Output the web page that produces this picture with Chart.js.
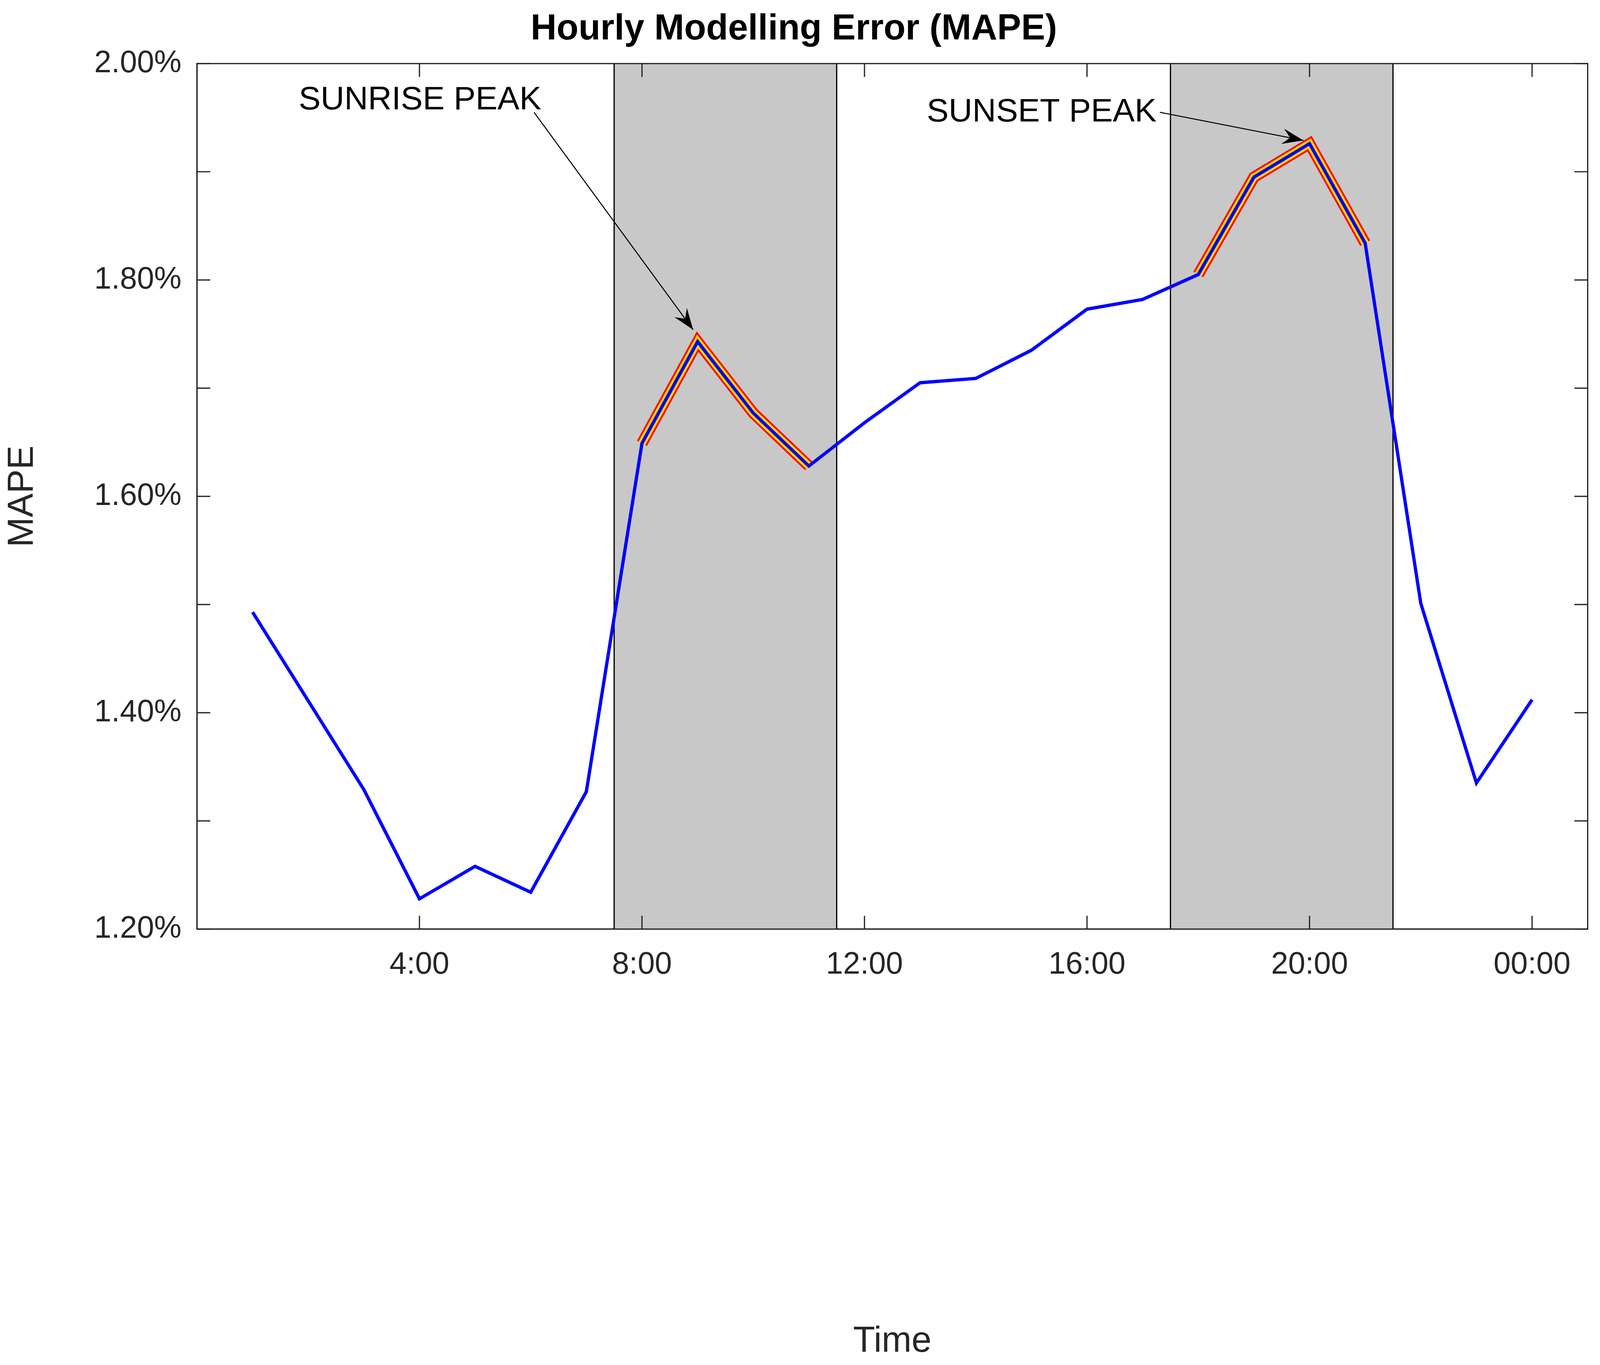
<!DOCTYPE html>
<html>
<head>
<meta charset="utf-8">
<script src="https://cdn.jsdelivr.net/npm/chart.js@4/dist/chart.umd.min.js"></script>
<style>
  html, body { margin: 0; padding: 0; background: #fff; overflow: hidden; }
  #wrap { width: 100vw; height: 100vh; position: relative; }
</style>
</head>
<body>
<div id="wrap"><canvas id="mape-chart"></canvas></div>
<script>
// hour of day and MAPE (%)
const hours = [1, 2, 3, 4, 5, 6, 7, 8, 9, 10, 11, 12, 13, 14, 15, 16, 17, 18, 19, 20, 21, 22, 23, 24];
const mape = [1.493, 1.411, 1.329, 1.228, 1.258, 1.234, 1.327, 1.649, 1.743, 1.677, 1.628, 1.668,
  1.705, 1.709, 1.735, 1.773, 1.782, 1.805, 1.895, 1.926, 1.834, 1.501, 1.335, 1.412];
const shaded = [[7.5, 11.5], [17.5, 21.5]];
const peaks = [[8, 11], [18, 21]];
const xTicks = [4, 8, 12, 16, 20, 24];
const xTickLabels = ["4:00", "8:00", "12:00", "16:00", "20:00", "00:00"];
const notes = [
  { text: "SUNRISE PEAK", tx: 6.19, ty: 1.966, from: [6.06, 1.955], to: [8.92, 1.754] },
  { text: "SUNSET PEAK", tx: 17.25, ty: 1.955, from: [17.31, 1.955], to: [19.89, 1.929] },
];

// everything scaled from a 1560px-wide reference
const u = window.innerWidth / 1560;
const FONT = "'Liberation Sans', Arial, sans-serif";
const pts = hours.map((h, i) => ({ x: h, y: mape[i] }));
const peakPts = (r) => pts.filter(p => p.x >= r[0] && p.x <= r[1]);

const datasets = [];
peaks.forEach(r => {
  datasets.push({ data: peakPts(r), borderColor: "#ff0000", borderWidth: 11 * u, order: 3 });
  datasets.push({ data: peakPts(r), borderColor: "#ffd400", borderWidth: 7.5 * u, order: 2 });
});
datasets.push({ data: pts, borderColor: "#0000ff", borderWidth: 3.2 * u, order: 1 });

const decor = {
  id: "decor",
  beforeDatasetsDraw(chart) {
    const { ctx, chartArea: a, scales: { x } } = chart;
    ctx.save();
    shaded.forEach(([s, e]) => {
      const x0 = x.getPixelForValue(s), x1 = x.getPixelForValue(e);
      ctx.fillStyle = "#c8c8c8";
      ctx.fillRect(x0, a.top, x1 - x0, a.bottom - a.top);
      ctx.strokeStyle = "#000"; ctx.lineWidth = 1.2 * u;
      ctx.beginPath();
      ctx.moveTo(x0, a.top); ctx.lineTo(x0, a.bottom);
      ctx.moveTo(x1, a.top); ctx.lineTo(x1, a.bottom);
      ctx.stroke();
    });
    ctx.restore();
  },
  afterDatasetsDraw(chart) {
    const { ctx, chartArea: a, scales: { x, y } } = chart;
    ctx.save();
    ctx.strokeStyle = "#262626"; ctx.lineWidth = 1.2 * u;
    ctx.strokeRect(a.left, a.top, a.right - a.left, a.bottom - a.top);
    const len = 13 * u;
    ctx.beginPath();
    for (let v = 1.2; v <= 2.0001; v += 0.1) {
      const py = y.getPixelForValue(v);
      ctx.moveTo(a.left, py); ctx.lineTo(a.left + len, py);
      ctx.moveTo(a.right, py); ctx.lineTo(a.right - len, py);
    }
    xTicks.forEach(h => {
      const px = x.getPixelForValue(h);
      ctx.moveTo(px, a.bottom); ctx.lineTo(px, a.bottom - len);
      ctx.moveTo(px, a.top); ctx.lineTo(px, a.top + len);
    });
    ctx.stroke();

    ctx.fillStyle = "#000"; ctx.strokeStyle = "#000"; ctx.lineWidth = 1 * u;
    ctx.font = (32 * u) + "px " + FONT;
    ctx.textAlign = "right"; ctx.textBaseline = "middle";
    notes.forEach(n => {
      ctx.fillText(n.text, x.getPixelForValue(n.tx), y.getPixelForValue(n.ty));
      const x0 = x.getPixelForValue(n.from[0]), y0 = y.getPixelForValue(n.from[1]);
      const x1 = x.getPixelForValue(n.to[0]), y1 = y.getPixelForValue(n.to[1]);
      ctx.beginPath(); ctx.moveTo(x0, y0); ctx.lineTo(x1, y1); ctx.stroke();
      const ang = Math.atan2(y1 - y0, x1 - x0), hl = 22 * u, hw = 0.35;
      ctx.beginPath();
      ctx.moveTo(x1, y1);
      ctx.lineTo(x1 - hl * Math.cos(ang - hw), y1 - hl * Math.sin(ang - hw));
      ctx.lineTo(x1 - hl * 0.6 * Math.cos(ang), y1 - hl * 0.6 * Math.sin(ang));
      ctx.lineTo(x1 - hl * Math.cos(ang + hw), y1 - hl * Math.sin(ang + hw));
      ctx.closePath(); ctx.fill();
    });
    ctx.restore();
  }
};

new Chart(document.getElementById("mape-chart"), {
  type: "line",
  data: { datasets },
  options: {
    responsive: true,
    maintainAspectRatio: false,
    animation: false,
    layout: { padding: { left: 0, right: 12 * u, top: 0, bottom: 0 } },
    elements: { point: { radius: 0 }, line: { tension: 0, borderJoinStyle: "miter" } },
    plugins: {
      legend: { display: false },
      tooltip: { enabled: false },
      title: {
        display: true,
        text: "Hourly Modelling Error (MAPE)",
        color: "#000",
        font: { family: FONT, size: 35 * u, weight: "bold" },
        padding: { top: 8 * u, bottom: 12 * u }
      }
    },
    scales: {
      x: {
        type: "linear", min: 0, max: 25,
        afterBuildTicks: (s) => { s.ticks = xTicks.map(v => ({ value: v })); },
        afterFit: (s) => { s.height = window.innerHeight - 906 * u; },
        grid: { display: false },
        border: { display: true, color: "#262626", width: 1.2 * u },
        ticks: {
          color: "#262626", font: { family: FONT, size: 30 * u }, padding: 14 * u,
          callback: (v) => xTickLabels[xTicks.indexOf(v)] ?? ""
        },
        title: { display: true, text: "Time", color: "#262626", font: { family: FONT, size: 35 * u }, padding: { top: 2 * u } }
      },
      y: {
        min: 1.2, max: 2.0,
        afterBuildTicks: (s) => { s.ticks = [1.2, 1.4, 1.6, 1.8, 2.0].map(v => ({ value: v })); },
        afterFit: (s) => { s.width = 192 * u; },
        grid: { display: false },
        border: { display: true, color: "#262626", width: 1.2 * u },
        ticks: {
          color: "#262626", font: { family: FONT, size: 30 * u }, padding: 12 * u,
          callback: (v) => v.toFixed(2) + "%"
        },
        title: { display: true, text: "MAPE", color: "#262626", font: { family: FONT, size: 35 * u }, padding: { bottom: 8 * u } }
      }
    }
  },
  plugins: [decor]
});
</script>
</body>
</html>
